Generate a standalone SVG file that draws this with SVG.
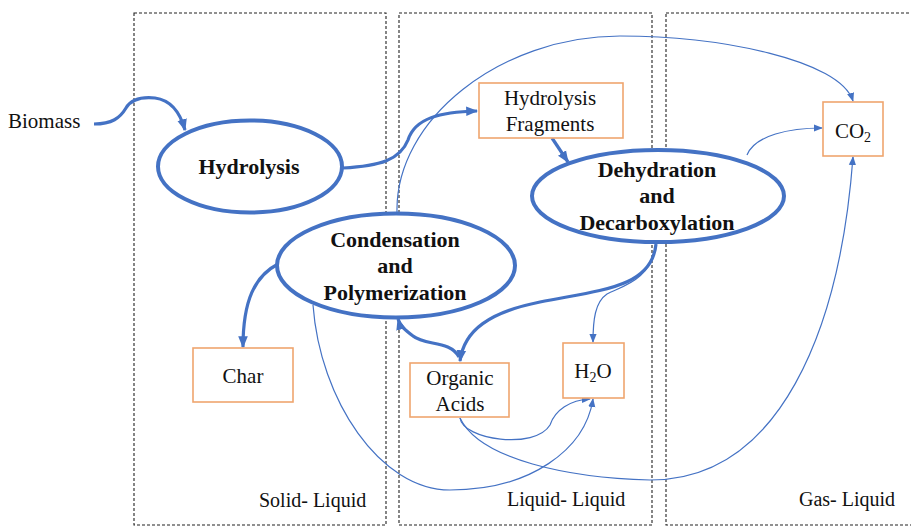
<svg xmlns="http://www.w3.org/2000/svg" width="911" height="526" viewBox="0 0 911 526">
<style>
.zone{fill:none;stroke:#222;stroke-width:1.1;stroke-dasharray:3,2}
.ell{fill:#fff;stroke:#4472C4;stroke-width:4}
.box{fill:#fff;stroke:#EFA56E;stroke-width:1.6}
.thick{fill:none;stroke:#4472C4;stroke-width:3.2}
.thin{fill:none;stroke:#4472C4;stroke-width:1.2}
text{font-family:'Liberation Serif','Tinos','DejaVu Serif',serif;fill:#111}
.t{font-size:21px}
.b{font-size:22px;font-weight:bold}
.z{font-size:20px}
</style>
<defs>
<marker id="ah" markerUnits="userSpaceOnUse" markerWidth="12" markerHeight="12" viewBox="0 0 10 10" refX="9" refY="5" orient="auto"><path d="M0,1 L10,5 L0,9 Z" fill="#4472C4"/></marker>
<marker id="as" markerUnits="userSpaceOnUse" markerWidth="9" markerHeight="9" viewBox="0 0 10 10" refX="9" refY="5" orient="auto"><path d="M0,1 L10,5 L0,9 Z" fill="#4472C4"/></marker>
</defs>
<rect width="911" height="526" fill="#fff"/>
<g id="zones">
<rect class="zone" x="134" y="13" width="252" height="512"/>
<rect class="zone" x="399" y="13" width="253" height="512"/>
<rect class="zone" x="666" y="13" width="250" height="512"/>
<text class="z" x="259" y="507">Solid- Liquid</text>
<text class="z" x="507" y="506">Liquid- Liquid</text>
<text class="z" x="799" y="506">Gas- Liquid</text>
</g>
<g id="connectors">
<path class="thick" d="M94 124 C112 124 120 118 126 108 C132 98 145 97 155 98 C170 100 180 112 185 130" marker-end="url(#ah)"/>
<path class="thick" d="M343 168 C380 166 400 160 408 140 C415 118 440 112 477 111" marker-end="url(#ah)"/>
<path class="thick" d="M552 138 L568 162" marker-end="url(#ah)"/>
<path class="thick" d="M278 264 C255 276 243 300 243 347" marker-end="url(#ah)"/>
<path class="thick" d="M656 244 C652 288 600 290 540 302 C490 312 464 330 460 361" marker-end="url(#ah)"/>
<path class="thick" d="M459 357 C450 340 425 346 413 336 C405 330 400 326 398 319" marker-end="url(#ah)"/>
<path class="thin" d="M656 243 C652 280 622 286 607 294 C595 302 593 320 593 342" marker-end="url(#as)"/>
<path class="thin" d="M460 418 C463 440 535 450 550 425 C555 410 570 400 590 399" marker-end="url(#as)"/>
<path class="thin" d="M460 418 C480 460 570 478 650 480 C780 480 840 330 853 157" marker-end="url(#as)"/>
<path class="thin" d="M313 305 C320 400 380 490 450 490 C530 490 585 450 593 399" marker-end="url(#as)"/>
<path class="thin" d="M397 212 C395 120 500 36 620 36 C720 36 840 60 853 101" marker-end="url(#as)"/>
<path class="thin" d="M747 155 C755 135 790 128 822 128" marker-end="url(#as)"/>
</g>
<g id="biomass"><text class="t" x="8" y="128">Biomass</text></g>
<g id="hydrolysis">
<ellipse class="ell" cx="250" cy="166.5" rx="92" ry="46"/>
<text class="b" x="249" y="174" text-anchor="middle">Hydrolysis</text>
</g>
<g id="fragments">
<rect class="box" x="479" y="83" width="144" height="55"/>
<text class="t" x="550" y="105" text-anchor="middle">Hydrolysis</text>
<text class="t" x="550" y="131" text-anchor="middle">Fragments</text>
</g>
<g id="dehydration">
<ellipse class="ell" cx="658" cy="196" rx="126" ry="46"/>
<text class="b" x="657" y="177" text-anchor="middle">Dehydration</text>
<text class="b" x="657" y="203" text-anchor="middle">and</text>
<text class="b" x="657" y="230" text-anchor="middle">Decarboxylation</text>
</g>
<g id="condensation">
<ellipse class="ell" cx="396" cy="265.5" rx="119" ry="52"/>
<text class="b" x="395" y="247" text-anchor="middle">Condensation</text>
<text class="b" x="395" y="273" text-anchor="middle">and</text>
<text class="b" x="395" y="300" text-anchor="middle">Polymerization</text>
</g>
<g id="char">
<rect class="box" x="193" y="348" width="100" height="54"/>
<text class="t" x="243" y="383" text-anchor="middle">Char</text>
</g>
<g id="organic-acids">
<rect class="box" x="410" y="363" width="99" height="54"/>
<text class="t" x="460" y="385" text-anchor="middle">Organic</text>
<text class="t" x="460" y="411" text-anchor="middle">Acids</text>
</g>
<g id="h2o">
<rect class="box" x="563" y="343" width="61" height="55"/>
<text class="t" x="593" y="378" text-anchor="middle">H<tspan font-size="14" dy="4">2</tspan><tspan dy="-4">O</tspan></text>
</g>
<g id="co2">
<rect class="box" x="823" y="102" width="60" height="54"/>
<text class="t" x="853" y="138" text-anchor="middle">CO<tspan font-size="14" dy="4">2</tspan></text>
</g>
</svg>
